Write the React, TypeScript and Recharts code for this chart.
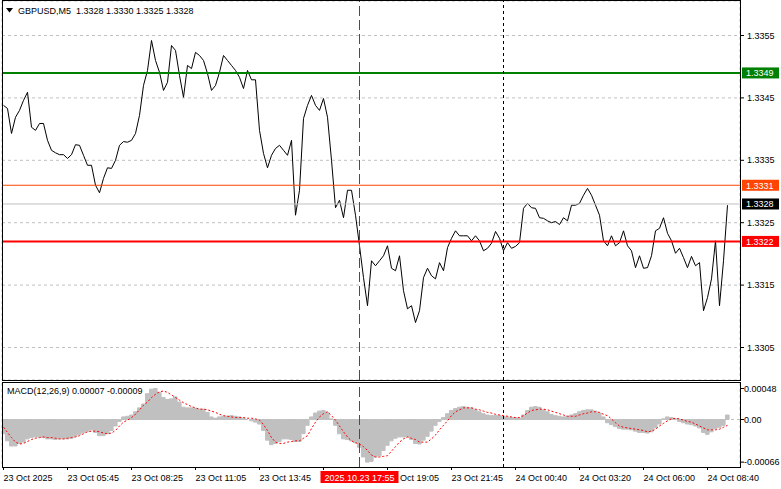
import {
  ComposedChart,
  Line,
  Bar,
  XAxis,
  YAxis,
  CartesianGrid,
  ReferenceLine,
} from "recharts";

const FONT = "'Liberation Sans', Arial, sans-serif";
const FS = 9;

// GBPUSD M5 closes, one value every 2 bars (10 min)
const price = [
  1.33438, 1.33433, 1.33393, 1.33419, 1.3343, 1.33446, 1.33459, 1.33403, 1.33398, 1.33409,
  1.33409, 1.33382, 1.33366, 1.33362, 1.33359, 1.33359, 1.33353, 1.33359, 1.33375, 1.33374,
  1.33358, 1.33342, 1.33342, 1.3331, 1.33298, 1.33321, 1.33338, 1.33337, 1.3335, 1.33374,
  1.3338, 1.33379, 1.33382, 1.33393, 1.33422, 1.3347, 1.33494, 1.33542, 1.3351, 1.33491,
  1.33462, 1.33475, 1.33534, 1.33526, 1.33486, 1.33451, 1.33502, 1.33497, 1.33523, 1.33518,
  1.3351, 1.33489, 1.33462, 1.3347, 1.33491, 1.33518, 1.3351, 1.33502, 1.33494, 1.33483,
  1.33465, 1.33494, 1.33479, 1.33479, 1.33398, 1.33361, 1.33338, 1.33358, 1.33369, 1.33374,
  1.33366, 1.33358, 1.33382, 1.33262, 1.33302, 1.33417, 1.33438, 1.33454, 1.33438, 1.3343,
  1.33449, 1.33419, 1.3335, 1.33274, 1.33286, 1.33258, 1.33302, 1.33302, 1.33262, 1.33213,
  1.33162, 1.33117, 1.33189, 1.33181, 1.33189, 1.33197, 1.33213, 1.33177, 1.33173, 1.33197,
  1.33141, 1.33112, 1.33117, 1.3309, 1.33109, 1.33162, 1.33177, 1.33165, 1.3316, 1.33186,
  1.33173, 1.3321, 1.33225, 1.33237, 1.33229, 1.33229, 1.33229, 1.33221, 1.33229, 1.33221,
  1.33205, 1.33209, 1.33217, 1.33236, 1.33225, 1.33205, 1.33218, 1.33209, 1.33212, 1.33218,
  1.33273, 1.33281, 1.33274, 1.33273, 1.33258, 1.33257, 1.33253, 1.3325, 1.33252, 1.33247,
  1.33258, 1.33253, 1.33278, 1.33278, 1.33281, 1.33294, 1.33305, 1.33294, 1.33278, 1.33262,
  1.33221, 1.33213, 1.33229, 1.33213, 1.33218, 1.33237, 1.33213, 1.33205, 1.33178, 1.33197,
  1.33177, 1.33178, 1.33197, 1.33237, 1.33241, 1.33258, 1.33233, 1.33221, 1.33201, 1.33209,
  1.33194, 1.33178, 1.33196, 1.33181, 1.33186, 1.33109, 1.3313, 1.3316, 1.33221, 1.33117,
  1.33189, 1.33278,
];

// MACD(12,26,9) main histogram and signal, in units of 0.00001
const macdMain = [
  -22, -33, -41, -41, -37, -35, -30, -28, -27, -27,
  -28, -30, -30, -31, -30, -30, -30, -29, -26, -23,
  -20, -18, -16, -20, -25, -25, -22, -17, -10, -3,
  4, 5, 7, 12, 18, 24, 40, 47, 48, 42,
  34, 31, 32, 35, 27, 19, 18, 18, 17, 16,
  16, 11, 4, 2, 4, 5, 5, 6, 5, 4,
  2, 0, -2, -4, -7, -17, -32, -39, -37, -34,
  -30, -30, -31, -34, -34, -22, -9, 4, 10, 13,
  14, 11, 1, -9, -22, -30, -31, -33, -36, -43,
  -58, -66, -65, -58, -56, -48, -40, -33, -29, -27,
  -27, -27, -31, -37, -38, -32, -26, -18, -9, -3,
  3, 9, 14, 17, 19, 20, 19, 18, 15, 12,
  9, 7, 6, 6, 6, 5, 4, 3, 3, 2,
  7, 14, 19, 20, 19, 15, 12, 8, 6, 5,
  4, 5, 7, 9, 12, 14, 15, 15, 13, 10,
  4, -5, -8, -11, -14, -15, -15, -16, -18, -20,
  -20, -21, -19, -13, -7, 1, 4, 3, 1, -3,
  -5, -7, -8, -10, -13, -20, -23, -19, -14, -12,
  -9, 7,
];

const macdSignal = [
  -12, -20, -28, -35, -38, -37, -34, -31, -29, -28,
  -27, -28, -28, -29, -30, -30, -29, -28, -27, -25,
  -22, -19, -18, -18, -19, -21, -22, -21, -17, -10,
  -4, -1, 3, 8, 15, 22, 27, 34, 39, 43,
  44, 42, 38, 34, 30, 26, 23, 20, 18, 16,
  16, 15, 13, 11, 8, 6, 5, 4, 3, 3,
  3, 2, 2, 1, -1, -8, -17, -28, -35, -37,
  -37, -35, -34, -33, -33, -29, -25, -14, -4, 4,
  9, 12, 6, -1, -10, -19, -27, -33, -36, -38,
  -42, -48, -55, -58, -58, -57, -56, -49, -42, -35,
  -30, -27, -29, -31, -35, -35, -35, -30, -24, -16,
  -9, -2, 6, 12, 15, 18, 18, 18, 16, 15,
  13, 11, 10, 8, 7, 6, 5, 4, 3, 3,
  6, 10, 14, 15, 16, 16, 15, 13, 11, 9,
  7, 5, 5, 5, 7, 9, 10, 12, 12, 11,
  8, 6, 1, -5, -10, -12, -13, -14, -15, -16,
  -17, -19, -18, -15, -10, -6, -2, 1, 2, 1,
  -1, -3, -4, -7, -10, -13, -16, -16, -16, -15,
  -12, -9,
];

const timeLabels = [
  "23 Oct 2025",
  "23 Oct 05:45",
  "23 Oct 08:25",
  "23 Oct 11:05",
  "23 Oct 13:45",
  "23 Oct 16:25",
  "23 Oct 19:05",
  "23 Oct 21:45",
  "24 Oct 00:40",
  "24 Oct 03:20",
  "24 Oct 06:00",
  "24 Oct 08:40",
];

const priceTicks = [1.3355, 1.3345, 1.3335, 1.3325, 1.3315, 1.3305];
const macdTicks = [0.00048, 0, -0.00066];

// horizontal levels: resistance, prev high, current bid, support
const levelValues = [1.3349, 1.3331, 1.3328, 1.3322];
const levelLine = ["#008000", "#ff4500", "#c0c0c0", "#ff0000"];
const levelTag = ["#008000", "#ff4500", "#000000", "#ff0000"];
const levelWidth = [2, 1, 1, 2];

const cursorIndex = 89;
const cursorLabel = "2025.10.23 17:55";
const sessionIndex = 125;

const rows = price.map((p, i) => ({
  i,
  price: p,
  macd: macdMain[i] / 1e5,
  signal: macdSignal[i] / 1e5,
}));

// domains offset by half a pixel so 1px grid / marker lines land on whole pixels
const X_DOMAIN: [number, number] = [-0.375, 184.125];
const PRICE_DOMAIN: [number, number] = [1.3299792, 1.3360529];
const MACD_DOMAIN: [number, number] = [-0.000735, 0.000565];

const gridTicks = Array.from({ length: 22 }, (_, k) => 8 + 8 * k);
// cursor tick last so its red tag is painted over the regular labels
const labelTicks = [...timeLabels.map((_, k) => k * 16), cursorIndex];

function Tag({ viewBox, text, bg }: any) {
  if (!viewBox) return null;
  const x = viewBox.x + viewBox.width + 2;
  const y = viewBox.y;
  return (
    <g>
      <rect x={x} y={y - 5.5} width={37} height={11} fill={bg} />
      <text x={x + 4} y={y + 3.5} fill="#ffffff" fontSize={FS} fontFamily={FONT}>
        {text}
      </text>
    </g>
  );
}

function TimeTick({ x, y, payload }: any) {
  if (payload.value === cursorIndex) {
    return (
      <g>
        <rect x={x - 39} y={y + 4} width={78} height={12} fill="#ff0000" />
        <text x={x} y={y + 13.5} textAnchor="middle" fill="#ffffff" fontSize={FS} fontFamily={FONT}>
          {cursorLabel}
        </text>
      </g>
    );
  }
  const label = timeLabels[Math.round(payload.value / 16)];
  return (
    <g>
      <line x1={x} x2={x} y1={y} y2={y + 3} stroke="#000" />
      <text x={x} y={y + 13.5} fontSize={FS} fontFamily={FONT} fill="#000">
        {label}
      </text>
    </g>
  );
}

const axisTick = { fill: "#000", fontSize: FS, fontFamily: FONT };

export default function App() {
  return (
    <div
      style={{
        position: "absolute",
        left: 0,
        top: 0,
        width: 781,
        height: 489,
        background: "#fff",
        overflow: "hidden",
        fontFamily: FONT,
      }}
    >
      <div style={{ position: "absolute", left: 0, top: 0 }}>
        <ComposedChart
          width={781}
          height={382}
          data={rows}
          margin={{ top: 1, right: 0, bottom: 2, left: 2 }}
        >
          <CartesianGrid stroke="#c0c0c0" strokeDasharray="3 3" />
          <XAxis
            dataKey="i"
            type="number"
            domain={X_DOMAIN}
            ticks={gridTicks}
            interval={0}
            height={0}
            tick={false}
            axisLine={false}
            tickLine={false}
            allowDataOverflow
          />
          <YAxis
            orientation="right"
            width={41}
            domain={PRICE_DOMAIN}
            ticks={priceTicks}
            interval={0}
            allowDataOverflow
            axisLine={false}
            tickSize={4}
            tickMargin={3}
            tick={axisTick}
            tickLine={{ stroke: "#000" }}
            tickFormatter={(v: number) => v.toFixed(4)}
          />
          <Line
            dataKey="price"
            type="linear"
            stroke="#000"
            strokeWidth={1}
            dot={false}
            isAnimationActive={false}
          />
          {levelValues.map((v, k) => (
            <ReferenceLine
              key={v}
              y={v}
              stroke={levelLine[k]}
              strokeWidth={levelWidth[k]}
              label={<Tag text={v.toFixed(4)} bg={levelTag[k]} />}
            />
          ))}
          <ReferenceLine x={sessionIndex} stroke="#000" strokeDasharray="3 3" />
          <ReferenceLine x={cursorIndex} stroke="#ff0000" strokeDasharray="10 4" />
        </ComposedChart>
      </div>

      <div style={{ position: "absolute", left: 0, top: 382 }}>
        <ComposedChart
          width={781}
          height={107}
          data={rows}
          margin={{ top: 1, right: 0, bottom: 0, left: 2 }}
        >
          <CartesianGrid
            xAxisId="grid"
            horizontal={false}
            stroke="#c0c0c0"
            strokeDasharray="3 3"
          />
          <XAxis
            xAxisId="grid"
            dataKey="i"
            type="number"
            domain={X_DOMAIN}
            ticks={gridTicks}
            interval={0}
            height={0}
            tick={false}
            axisLine={false}
            tickLine={false}
            allowDataOverflow
          />
          <XAxis
            dataKey="i"
            type="number"
            domain={X_DOMAIN}
            ticks={labelTicks}
            interval={0}
            height={22}
            tick={<TimeTick />}
            tickLine={false}
            axisLine={false}
            tickSize={0}
            tickMargin={0}
            allowDataOverflow
          />
          <YAxis
            orientation="right"
            width={41}
            domain={MACD_DOMAIN}
            ticks={macdTicks}
            interval={0}
            allowDataOverflow
            axisLine={false}
            tickSize={4}
            tickMargin={0}
            tick={axisTick}
            tickLine={{ stroke: "#000" }}
            tickFormatter={(v: number) => (v === 0 ? "0.00" : v.toFixed(5))}
          />
          <ReferenceLine y={0} stroke="#c0c0c0" strokeDasharray="3 3" />
          <Bar
            dataKey="macd"
            fill="#c0c0c0"
            stroke="#c0c0c0"
            strokeWidth={1}
            barSize={4}
            isAnimationActive={false}
          />
          <Line
            dataKey="signal"
            type="linear"
            stroke="#ff0000"
            strokeWidth={1}
            strokeDasharray="2 2"
            dot={false}
            isAnimationActive={false}
          />
          <ReferenceLine x={sessionIndex} stroke="#000" strokeDasharray="3 3" />
          <ReferenceLine x={cursorIndex} stroke="#ff0000" strokeDasharray="10 4" />
        </ComposedChart>
      </div>

      {/* panel frames */}
      <div
        style={{
          position: "absolute",
          left: 2,
          top: 0,
          width: 739,
          height: 381,
          boxSizing: "border-box",
          border: "1px solid #000",
          pointerEvents: "none",
        }}
      />
      <div
        style={{
          position: "absolute",
          left: 2,
          top: 382,
          width: 739,
          height: 86,
          boxSizing: "border-box",
          border: "1px solid #000",
          pointerEvents: "none",
        }}
      />

      {/* symbol header */}
      <svg style={{ position: "absolute", left: 6, top: 8 }} width={8} height={6}>
        <polygon points="0,0 7,0 3.5,4.5" fill="#000" />
      </svg>
      <div
        style={{
          position: "absolute",
          left: 18,
          top: 5,
          fontSize: FS,
          lineHeight: "12px",
          color: "#000",
          whiteSpace: "nowrap",
        }}
      >
        GBPUSD,M5&nbsp; 1.3328 1.3330 1.3325 1.3328
      </div>
      <div
        style={{
          position: "absolute",
          left: 7,
          top: 385,
          fontSize: FS,
          lineHeight: "12px",
          color: "#000",
          whiteSpace: "nowrap",
        }}
      >
        MACD(12,26,9) 0.00007 -0.00009
      </div>
    </div>
  );
}
